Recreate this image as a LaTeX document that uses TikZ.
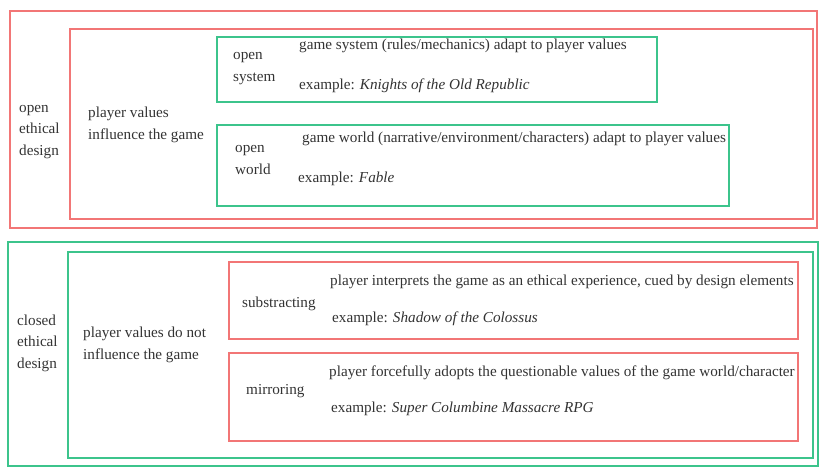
\documentclass[tikz,border=0pt]{standalone}
\usepackage{fontspec}
\setmainfont{Liberation Serif}
\definecolor{boxred}{HTML}{F27676}
\definecolor{boxgreen}{HTML}{3CC48C}
\definecolor{txt}{HTML}{333333}
\tikzset{
  redbox/.style={draw=boxred, line width=2pt},
  greenbox/.style={draw=boxgreen, line width=2pt},
  lbl/.style={anchor=base west, inner sep=0pt, text=txt, font=\fontsize{15.2}{21.5}\selectfont, align=left},
}
\begin{document}
\begin{tikzpicture}[x=1pt,y=-1pt]
\useasboundingbox (0,0) rectangle (819,467);
% top half
\draw[redbox] (10,11) rectangle (817,228);
\draw[redbox] (70,29) rectangle (813,219);
\draw[greenbox] (217,37) rectangle (657,102);
\draw[greenbox] (217,125) rectangle (729,206);
% bottom half
\draw[greenbox] (8,242) rectangle (818,466);
\draw[greenbox] (68,252) rectangle (813,458);
\draw[redbox] (229,262) rectangle (798,339);
\draw[redbox] (229,353) rectangle (798,441);
% texts (multi-line nodes: base = last line)
\node[lbl] (oed) at (19,155) {open\\ethical\\design};
\node[lbl] (pvi) at (88,139) {player values\\influence the game};
\node[lbl] (os) at (233,81) {open\\system};
\node[lbl] (gs) at (299,49) {game system (rules/mechanics) adapt to player values};
\node[lbl] (ek) at (299,89) {example: \textit{Knights of the Old Republic}};
\node[lbl] (ow) at (235,174) {open\\world};
\node[lbl] (gw) at (302,142) {game world (narrative/environment/characters) adapt to player values};
\node[lbl] (ef) at (298,182) {example: \textit{Fable}};
\node[lbl] (ced) at (17,368) {closed\\ethical\\design};
\node[lbl] (pvn) at (83,359) {player values do not\\influence the game};
\node[lbl] (sub) at (242,307) {substracting};
\node[lbl] (pi) at (330,285) {player interprets the game as an ethical experience, cued by design elements};
\node[lbl] (es) at (332,322) {example: \textit{Shadow of the Colossus}};
\node[lbl] (mir) at (246,394) {mirroring};
\node[lbl] (pf) at (329,376) {player forcefully adopts the questionable values of the game world/character};
\node[lbl] (esc) at (331,412) {example: \textit{Super Columbine Massacre RPG}};
\end{tikzpicture}
\end{document}
